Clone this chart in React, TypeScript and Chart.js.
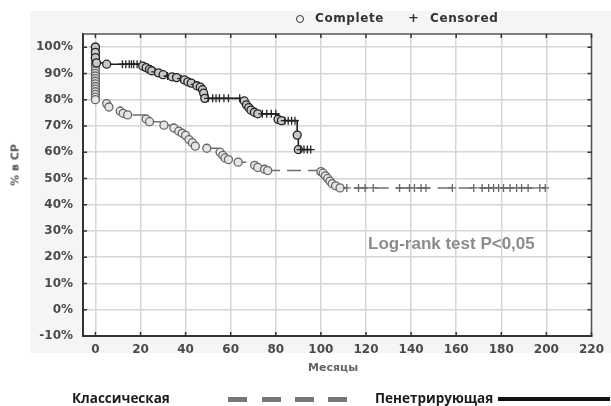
import React, { useEffect, useRef } from "react";
import { Chart, registerables } from "chart.js";

Chart.register(...registerables);

// Axis ticks
const xTicks = [0, 20, 40, 60, 80, 100, 120, 140, 160, 180, 200, 220];
const yTicks = [-10, 0, 10, 20, 30, 40, 50, 60, 70, 80, 90, 100];

// Penetrating (solid black): month, survival %, censored flag (1 = "+", 0 = "o")
const penMonths = [
  0, 0, 0, 0.5, 5,
  12, 13.5, 15, 16, 17, 18.5, 20,
  21, 22.5, 24, 25, 26.5, 28, 30, 32, 34, 36, 38, 39.5, 41, 42.5, 44, 45, 46.5, 47.5, 48, 48.5,
  50, 52, 53.5, 55, 57, 59, 64,
  66, 67, 68, 69, 70.5, 72, 74, 76, 78, 80,
  81, 82.5, 84, 85.5, 87, 88.5,
  89.5, 90, 91, 92.5, 94, 95.5,
];
const penSurvival = [
  100, 98, 96, 94, 93.5,
  93.5, 93.5, 93.5, 93.5, 93.5, 93.5, 93.5,
  92.8, 92.2, 91.5, 91, 90.6, 90.2, 89.5, 89, 88.7, 88.4, 88, 87.5, 86.8, 86.3, 85.8, 85.3, 84.8, 83.8, 82.5, 80.5,
  80.5, 80.5, 80.5, 80.5, 80.5, 80.5, 80.5,
  79.5, 78, 77, 76, 75.2, 74.6, 74.6, 74.6, 74.6, 74.6,
  72.5, 72, 72, 72, 72, 72,
  66.5, 61, 61, 61, 61, 61,
];
const penCensored = [
  0, 0, 0, 0, 0,
  1, 1, 1, 1, 1, 1, 1,
  0, 0, 0, 0, 1, 0, 0, 1, 0, 0, 1, 0, 0, 0, 1, 0, 0, 0, 0, 0,
  1, 1, 1, 1, 1, 1, 1,
  0, 0, 0, 0, 0, 0, 1, 1, 1, 1,
  0, 0, 1, 1, 1, 1,
  0, 0, 1, 1, 1, 1,
];

// Classical (dashed grey)
const clsMonths = [
  0, 0, 0, 0, 0, 0, 0, 0, 0, 0, 0, 0, 0, 0, 0, 0, 0, 0, 0, 0, 0,
  5, 6, 11, 12.3, 14.3,
  22.5, 24, 30.4, 34.8, 37, 38.5, 40, 41.5, 43, 44.3, 49.4, 55.3, 56.5, 57.5, 59, 63.3, 70.6, 72, 75, 76.4,
  100, 101, 102, 103, 104, 105, 106.5, 108.5,
  111.5, 116.7, 119.6, 123.2, 134.9, 139.3, 141.5, 144.4, 146.6, 158.3, 167.8, 171.5, 174.4, 176.6,
  178.8, 181, 183.9, 186.8, 189, 191.9, 197.1, 199.5,
];
const clsSurvival = [
  100, 99, 98, 97, 96, 95, 94, 93, 92, 91, 90, 89, 88, 87, 86, 85, 84, 83, 82, 81, 80,
  78.5, 77.2, 75.6, 74.8, 74.2,
  72.6, 71.6, 70.3, 69.2, 68, 67.2, 66.4, 64.8, 63.6, 62.3, 61.5, 60, 58.8, 57.8, 57.2, 56.2, 55, 54.2, 53.5, 53,
  52.6, 52, 51, 50, 49, 48, 47.2, 46.4,
  46.4, 46.4, 46.4, 46.4, 46.4, 46.4, 46.4, 46.4, 46.4, 46.4, 46.4, 46.4, 46.4, 46.4,
  46.4, 46.4, 46.4, 46.4, 46.4, 46.4, 46.4, 46.4,
];
const clsCensored = [
  0, 0, 0, 0, 0, 0, 0, 0, 0, 0, 0, 0, 0, 0, 0, 0, 0, 0, 0, 0, 0,
  0, 0, 0, 0, 0,
  0, 0, 0, 0, 0, 0, 0, 0, 0, 0, 0, 0, 0, 0, 0, 0, 0, 0, 0, 0,
  0, 0, 0, 0, 0, 0, 0, 0,
  1, 1, 1, 1, 1, 1, 1, 1, 1, 1, 1, 1, 1, 1,
  1, 1, 1, 1, 1, 1, 1, 1,
];

const toPoints = (xs: number[], ys: number[]) => xs.map((x, i) => ({ x, y: ys[i] }));

const framePlugin = {
  id: "frame",
  beforeDraw(chart: any) {
    const { ctx, chartArea: a } = chart;
    ctx.save();
    ctx.fillStyle = "#f5f5f5";
    ctx.fillRect(30, 11, chart.width - 30, 342);
    ctx.fillStyle = "#ffffff";
    ctx.fillRect(a.left, a.top, a.right - a.left, a.bottom - a.top);
    ctx.restore();
  },
  afterDraw(chart: any) {
    const { ctx, chartArea: a, scales } = chart;
    ctx.save();
    ctx.strokeStyle = "#555";
    ctx.lineWidth = 1.5;
    ctx.beginPath();
    ctx.moveTo(a.left, a.top);
    ctx.lineTo(a.right, a.top);
    ctx.lineTo(a.right, a.bottom);
    ctx.stroke();
    ctx.strokeStyle = "#333";
    ctx.lineWidth = 1.5;
    ctx.beginPath();
    xTicks.forEach((v) => {
      const px = scales.x.getPixelForValue(v);
      ctx.moveTo(px, a.bottom);
      ctx.lineTo(px, a.bottom - 4);
      ctx.moveTo(px, a.top);
      ctx.lineTo(px, a.top + 4);
    });
    yTicks.forEach((v) => {
      const py = scales.y.getPixelForValue(v);
      ctx.moveTo(a.left, py);
      ctx.lineTo(a.left + 4, py);
      ctx.moveTo(a.right, py);
      ctx.lineTo(a.right - 4, py);
    });
    ctx.stroke();
    ctx.restore();
  },
};

export default function App() {
  const ref = useRef<HTMLCanvasElement | null>(null);

  useEffect(() => {
    if (!ref.current) return;
    const tickFont = { family: "DejaVu Sans", size: 12, weight: "bold" as const };
    const chart = new Chart(ref.current, {
      type: "line",
      data: {
        datasets: [
          {
            label: "Пенетрирующая",
            data: toPoints(penMonths, penSurvival),
            stepped: "before",
            borderColor: "#1a1a1a",
            borderWidth: 1.6,
            pointStyle: (c: any) => (penCensored[c.dataIndex] ? "cross" : "circle"),
            pointRadius: (c: any) => (penCensored[c.dataIndex] ? 4 : 4),
            pointBorderColor: "#222",
            pointBackgroundColor: "#c8c8c8",
            pointBorderWidth: 1.3,
            fill: false,
          },
          {
            label: "Классическая",
            data: toPoints(clsMonths, clsSurvival),
            stepped: "before",
            borderColor: "#6e6e6e",
            borderWidth: 1.5,
            borderDash: [14, 7],
            pointStyle: (c: any) => (clsCensored[c.dataIndex] ? "cross" : "circle"),
            pointRadius: (c: any) => (clsCensored[c.dataIndex] ? 4 : 4),
            pointBorderColor: "#666",
            pointBackgroundColor: "#e6e6e6",
            pointBorderWidth: 1.3,
            fill: false,
          },
        ],
      },
      options: {
        animation: false,
        responsive: false,
        layout: { padding: { left: 0, top: 34, right: 16, bottom: 30 } },
        plugins: { legend: { display: false }, tooltip: { enabled: false } },
        scales: {
          x: {
            type: "linear",
            min: -5.5,
            max: 220,
            afterFit: (s: any) => {
              s.height = 40;
            },
            afterBuildTicks: (s: any) => {
              s.ticks = xTicks.map((v) => ({ value: v }));
            },
            ticks: { font: tickFont, color: "#4a4a4a", padding: 7, maxRotation: 0 },
            grid: { color: "#d6d6d6", lineWidth: 1.5, drawTicks: false },
            border: { display: true, color: "#333", width: 2 },
          },
          y: {
            type: "linear",
            min: -10,
            max: 105,
            afterFit: (s: any) => {
              s.width = 83;
            },
            afterBuildTicks: (s: any) => {
              s.ticks = yTicks.map((v) => ({ value: v }));
            },
            ticks: {
              font: tickFont,
              color: "#4a4a4a",
              padding: 10,
              callback: (v: any) => `${v}%`,
            },
            grid: { color: "#d6d6d6", lineWidth: 1.5, drawTicks: false },
            border: { display: true, color: "#333", width: 2 },
          },
        },
      },
      plugins: [framePlugin],
    } as any);
    return () => chart.destroy();
  }, []);

  const bold = "DejaVu Sans";
  const legendFont = "'Open Sans', sans-serif";
  const dashes = [228, 262, 295, 328];

  return (
    <div style={{ position: "absolute", left: 0, top: 0, width: 611, height: 406, background: "#fff" }}>
      <canvas ref={ref} width={611} height={406} style={{ position: "absolute", left: 0, top: 0 }} />
      {/* top legend */}
      <div
        style={{
          position: "absolute",
          left: 296,
          top: 15,
          width: 8,
          height: 8,
          border: "1.3px solid #333",
          borderRadius: "50%",
          boxSizing: "border-box",
        }}
      />
      <div style={{ position: "absolute", left: 315, top: 11, font: `bold 12px ${bold}`, color: "#333", letterSpacing: 0.6, whiteSpace: "nowrap" }}>
        Complete
      </div>
      <div style={{ position: "absolute", left: 408, top: 10, font: `bold 13px ${bold}`, color: "#333" }}>+</div>
      <div style={{ position: "absolute", left: 430, top: 11, font: `bold 12px ${bold}`, color: "#333", letterSpacing: 0.6, whiteSpace: "nowrap" }}>
        Censored
      </div>
      {/* annotation */}
      <div style={{ position: "absolute", left: 368, top: 234, font: "bold 17px 'Liberation Sans', sans-serif", color: "#8c8c8c", whiteSpace: "nowrap" }}>
        Log-rank test P&lt;0,05
      </div>
      {/* axis titles */}
      <div style={{ position: "absolute", left: 308, top: 361, font: `bold 11px ${bold}`, color: "#666", whiteSpace: "nowrap" }}>
        Месяцы
      </div>
      <div
        style={{
          position: "absolute",
          left: 15,
          top: 165,
          transform: "translate(-50%, -50%) rotate(-90deg)",
          font: `bold 11px ${bold}`,
          color: "#555",
          whiteSpace: "nowrap",
        }}
      >
        % в СР
      </div>
      {/* bottom legend */}
      <div style={{ position: "absolute", left: 72, top: 389, font: `bold 13.5px ${legendFont}`, color: "#1a1a1a", whiteSpace: "nowrap" }}>
        Классическая
      </div>
      {dashes.map((x) => (
        <div key={x} style={{ position: "absolute", left: x, top: 397, width: 19, height: 5, background: "#777" }} />
      ))}
      <div style={{ position: "absolute", left: 375, top: 389, font: `bold 13.5px ${legendFont}`, color: "#1a1a1a", whiteSpace: "nowrap" }}>
        Пенетрирующая
      </div>
      <div style={{ position: "absolute", left: 498, top: 397, width: 112, height: 4, background: "#111" }} />
    </div>
  );
}
